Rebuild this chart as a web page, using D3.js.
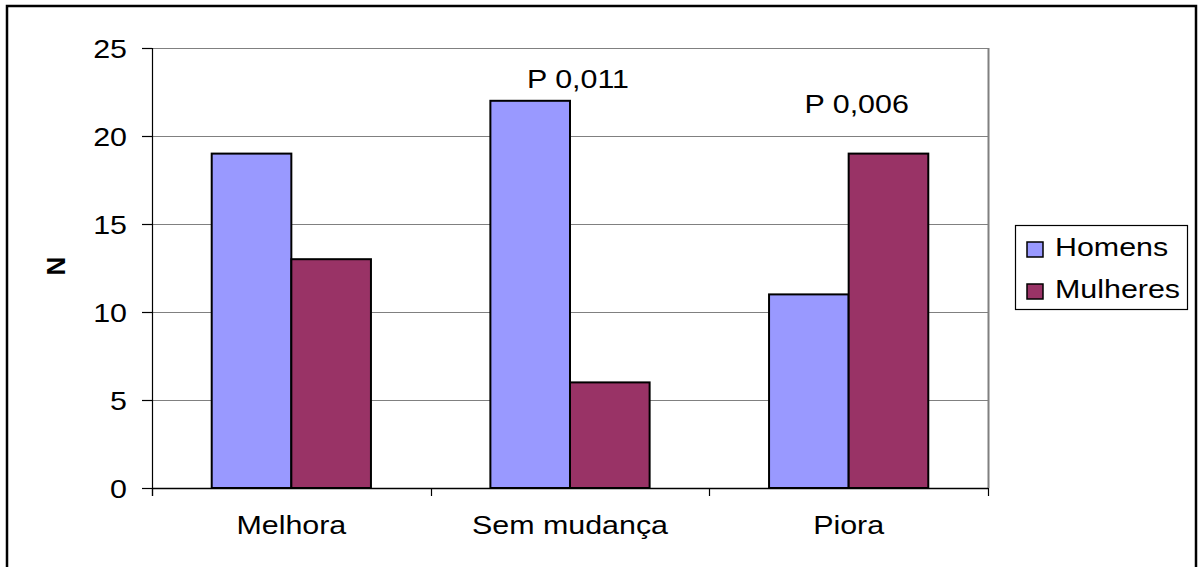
<!DOCTYPE html>
<html>
<head>
<meta charset="utf-8">
<script src="https://cdn.jsdelivr.net/npm/d3@7"></script>
<style>
  html, body { margin: 0; padding: 0; background: #fff; }
  svg { display: block; }
  text { font-family: 'Liberation Sans', Arial, sans-serif; fill: #000; }
</style>
</head>
<body>
<svg id="chart" width="1198" height="567"></svg>
<script>
// chart data
const categories = ['Melhora', 'Sem mudança', 'Piora']
const seriesNames = ['Homens', 'Mulheres']
const homens = [19, 22, 11]
const mulheres = [13, 6, 19]
const yTicks = [0, 5, 10, 15, 20, 25]
const pLabels = [null, 'P 0,011', 'P 0,006']

const COLORS = ['#9999FF', '#993366']
const FONT_SIZE = 26
const STRETCH = 1.17
// baseline of the p-value notes, in axis units
const P_LABEL_LEVEL = [null, 22.7, 21.3]

const svg = d3.select('#chart')

// outer frame
svg.append('rect')
  .attr('x', 7).attr('y', 6)
  .attr('width', 1189).attr('height', 570)
  .attr('fill', 'none')
  .attr('stroke', '#000')
  .attr('stroke-width', 2.5)

const plot = { left: 152, top: 48, right: 988, bottom: 488 }

const x = d3.scaleBand()
  .domain(categories)
  .range([plot.left, plot.right])

const barWidth = x.bandwidth() / 3.5

const xSeries = d3.scaleBand()
  .domain(seriesNames)
  .range([x.bandwidth() / 2 - barWidth, x.bandwidth() / 2 + barWidth])

const y = d3.scaleLinear()
  .domain([0, 25])
  .range([plot.bottom, plot.top])

function stretchedText (sel, tx, ty) {
  return sel.append('text')
    .attr('transform', `translate(${tx},${ty}) scale(${STRETCH},1)`)
    .style('font-size', FONT_SIZE + 'px')
}

// gridlines
svg.append('g')
  .selectAll('line')
  .data(yTicks.filter(d => d > 0))
  .join('line')
  .attr('x1', plot.left).attr('x2', plot.right)
  .attr('y1', d => Math.round(y(d)) + 0.5)
  .attr('y2', d => Math.round(y(d)) + 0.5)
  .attr('stroke', '#808080')
  .attr('stroke-width', 1.2)

// right border of plot area
svg.append('line')
  .attr('x1', plot.right + 0.5).attr('x2', plot.right + 0.5)
  .attr('y1', plot.top).attr('y2', plot.bottom)
  .attr('stroke', '#808080')
  .attr('stroke-width', 2)

// bars
const data = categories.map((c, i) => ({ cat: c, values: [homens[i], mulheres[i]] }))

const groups = svg.append('g')
  .selectAll('g')
  .data(data)
  .join('g')
  .attr('transform', d => `translate(${x(d.cat)},0)`)

groups.selectAll('rect')
  .data(d => d.values.map((v, j) => ({ name: seriesNames[j], value: v, j })))
  .join('rect')
  .attr('x', d => xSeries(d.name))
  .attr('width', xSeries.bandwidth())
  .attr('y', d => y(d.value))
  .attr('height', d => y(0) - y(d.value))
  .attr('fill', d => COLORS[d.j])
  .attr('stroke', '#000')
  .attr('stroke-width', 2)

// y axis
const yAxis = svg.append('g')
yAxis.append('line')
  .attr('x1', plot.left + 0.5).attr('x2', plot.left + 0.5)
  .attr('y1', plot.top).attr('y2', plot.bottom + 8)
  .attr('stroke', '#000').attr('stroke-width', 1.2)
yTicks.forEach(t => {
  const ty = Math.round(y(t)) + 0.5
  yAxis.append('line')
    .attr('x1', plot.left - 10).attr('x2', plot.left)
    .attr('y1', ty).attr('y2', ty)
    .attr('stroke', '#000').attr('stroke-width', 1.2)
  stretchedText(yAxis, plot.left - 25, ty + 9.5)
    .attr('text-anchor', 'end')
    .text(t)
})

// x axis
const xAxis = svg.append('g')
xAxis.append('line')
  .attr('x1', plot.left).attr('x2', plot.right)
  .attr('y1', plot.bottom + 0.5).attr('y2', plot.bottom + 0.5)
  .attr('stroke', '#000').attr('stroke-width', 1.5)
const xTickPos = categories.map(c => x(c)).concat([plot.right])
xTickPos.forEach(px => {
  xAxis.append('line')
    .attr('x1', Math.round(px) + 0.5).attr('x2', Math.round(px) + 0.5)
    .attr('y1', plot.bottom).attr('y2', plot.bottom + 8)
    .attr('stroke', '#000').attr('stroke-width', 1.2)
})
categories.forEach(c => {
  stretchedText(xAxis, x(c) + x.bandwidth() / 2, 534)
    .attr('text-anchor', 'middle')
    .text(c)
})

// p-value annotations
pLabels.forEach((label, i) => {
  if (!label) return
  stretchedText(svg, x(categories[i]) + x.bandwidth() / 2 + 8, y(P_LABEL_LEVEL[i]))
    .attr('text-anchor', 'middle')
    .text(label)
})

// y axis title
svg.append('text')
  .attr('transform', `translate(65,266) rotate(-90)`)
  .attr('text-anchor', 'middle')
  .style('font-size', '26px')
  .style('font-weight', 'bold')
  .text('N')

// legend
const legend = svg.append('g')
legend.append('rect')
  .attr('x', 1015.5).attr('y', 225.5)
  .attr('width', 172).attr('height', 84)
  .attr('fill', '#fff')
  .attr('stroke', '#000').attr('stroke-width', 1.2)
seriesNames.forEach((name, j) => {
  const ly = 249 + j * 42
  legend.append('rect')
    .attr('x', 1027).attr('y', ly - 7)
    .attr('width', 16).attr('height', 15)
    .attr('fill', COLORS[j])
    .attr('stroke', '#000').attr('stroke-width', 1.5)
  stretchedText(legend, 1055, ly + 7)
    .text(name)
})
</script>
</body>
</html>
